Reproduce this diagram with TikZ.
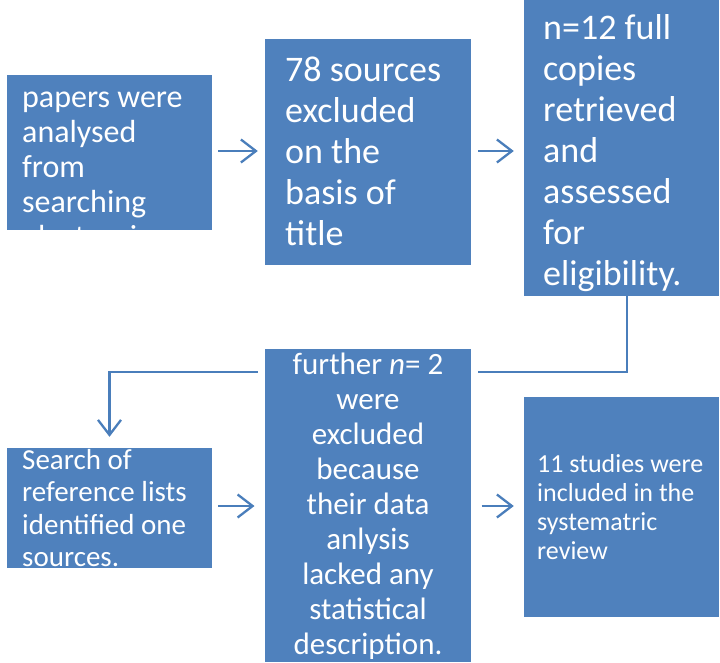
\documentclass[tikz,border=0pt]{standalone}
\usepackage{fontspec}
\setmainfont{Carlito}
\usetikzlibrary{arrows.meta}
\definecolor{boxblue}{HTML}{4F81BD}
\definecolor{linkblue}{HTML}{4A7EBB}
\tikzset{
  box/.style={fill=boxblue, draw=none, inner sep=0pt, minimum width=#1},
  txt/.style={text=white, inner sep=0pt, align=left, anchor=west},
  link/.style={draw=linkblue, line width=2.3pt},
  arr/.style={link, -{Straight Barb[length=15pt,width=23pt]}}
}
\begin{document}
\begin{tikzpicture}[x=1pt,y=-1pt]
\useasboundingbox (0,0) rectangle (720,662);
% boxes
\node[box=205pt, minimum height=155pt] (b1) at (109.5,152) {};
\node[box=206pt, minimum height=226pt] (b2) at (368,152) {};
\node[box=195pt, minimum height=296pt] (b3) at (621.5,148) {};
\node[box=205pt, minimum height=120pt] (b5) at (109.5,508) {};
\node[box=195pt, minimum height=220pt] (b6) at (621.5,507) {};
% elbow connector
\draw[arr, shorten >=11pt] ([xshift=5.5pt]b3.south) -- ++(0,76) -| (b5.north);
% middle bottom box with white surround
\node[box=213pt, minimum height=320pt, draw=white, line width=7pt] (b4) at (368,505.5) {};
% texts
\begin{scope}
\clip (b1.south west) rectangle (b1.north east);
\node[txt, font=\fontsize{32}{35}\selectfont] (t1) at (22,170) {papers were\\analysed\\from\\searching\\electronic};
\end{scope}
\node[txt, font=\fontsize{36}{41}\selectfont] (t2) at (285,151) {78 sources\\excluded\\on the\\basis of\\title};
\node[txt, font=\fontsize{36}{41}\selectfont] (t3) at (543,153) {n=12 full\\copies\\retrieved\\and\\assessed\\for\\eligibility.};
\node[txt, align=center, anchor=center, font=\fontsize{31}{35}\selectfont] (t4) at (368,506.5) {further \textit{n}= 2\\were\\excluded\\because\\their data\\anlysis\\lacked any\\statistical\\description.};
\node[txt, font=\fontsize{29}{32.5}\selectfont] (t5) at (22,508) {Search of\\reference lists\\identified one\\sources.};
\node[txt, font=\fontsize{26}{29}\selectfont] (t6) at (537,507.5) {11 studies were\\included in the\\systematric\\review};
% arrows
\draw[arr, shorten <=6pt, shorten >=7pt] ([yshift=1pt]b1.east) -- ([yshift=1pt]b1.east -| b2.west);
\draw[arr, shorten <=7pt, shorten >=10pt] ([yshift=1pt]b2.east) -- ([yshift=1pt]b2.east -| b3.west);
\draw[arr, shorten <=6pt, shorten >=3.5pt] ([yshift=2pt]b5.east) -- ([yshift=2pt]b5.east -| b4.west);
\draw[arr, shorten <=3.5pt, shorten >=10pt] ([yshift=2pt]b5.east -| b4.east) -- ([yshift=2pt]b5.east -| b6.west);
\end{tikzpicture}
\end{document}
